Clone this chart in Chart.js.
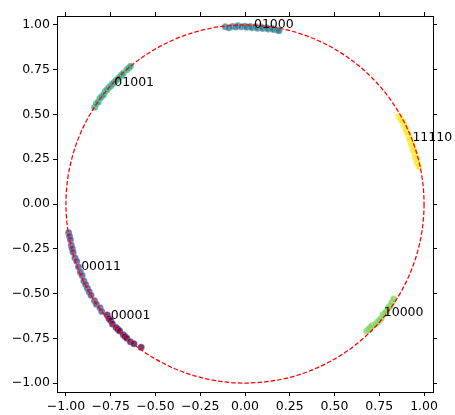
<!DOCTYPE html>
<html>
<head>
<meta charset="utf-8">
<script src="https://cdn.jsdelivr.net/npm/chart.js"></script>
<style>
  html, body { margin: 0; padding: 0; background: #fff; }
  #wrap { width: 455px; height: 415px; }
</style>
</head>
<body>
<div id="wrap"><canvas id="c" width="455" height="415"></canvas></div>
<script>
// cluster labels (codes) and colours (viridis, 6 classes)
const labels = ['00001', '00011', '01000', '01001', '10000', '11110'];
const colors = ['#440154', '#414487', '#2a788e', '#22a884', '#7ad151', '#fde725'];

// point coordinates per cluster
const x00001 = [-0.77, -0.76, -0.75, -0.74, -0.72, -0.71, -0.70, -0.68, -0.67, -0.66, -0.64, -0.62, -0.58];
const y00001 = [-0.62, -0.64, -0.65, -0.67, -0.69, -0.70, -0.71, -0.73, -0.74, -0.75, -0.77, -0.78, -0.80];

const x00011 = [-0.985, -0.98, -0.975, -0.97, -0.965, -0.96, -0.95, -0.94, -0.93, -0.92, -0.91, -0.90, -0.89, -0.88, -0.87, -0.86, -0.84, -0.83, -0.81, -0.80];
const y00011 = [-0.16, -0.18, -0.20, -0.23, -0.25, -0.27, -0.30, -0.32, -0.35, -0.38, -0.40, -0.43, -0.45, -0.47, -0.49, -0.51, -0.54, -0.56, -0.58, -0.60];

const x01000 = [-0.11, -0.09, -0.07, -0.05, -0.04, -0.02, 0.00, 0.01, 0.03, 0.04, 0.06, 0.07, 0.09, 0.10, 0.12, 0.13, 0.15, 0.16, 0.18, 0.19];
const y01000 = [0.990, 0.985, 0.992, 0.988, 0.995, 0.990, 0.993, 0.987, 0.992, 0.985, 0.990, 0.982, 0.988, 0.980, 0.985, 0.978, 0.980, 0.975, 0.972, 0.968];

const x01001 = [-0.84, -0.83, -0.82, -0.81, -0.80, -0.79, -0.78, -0.77, -0.76, -0.75, -0.74, -0.73, -0.72, -0.71, -0.70, -0.69, -0.68, -0.66, -0.65, -0.64];
const y01001 = [0.54, 0.56, 0.57, 0.59, 0.60, 0.61, 0.63, 0.64, 0.65, 0.66, 0.67, 0.68, 0.69, 0.70, 0.71, 0.72, 0.73, 0.75, 0.76, 0.77];

const x10000 = [0.68, 0.69, 0.70, 0.71, 0.73, 0.74, 0.75, 0.76, 0.77, 0.78, 0.79, 0.80, 0.81, 0.82, 0.83];
const y10000 = [-0.71, -0.70, -0.69, -0.68, -0.67, -0.66, -0.65, -0.64, -0.62, -0.61, -0.60, -0.58, -0.57, -0.55, -0.53];

const x11110 = [0.86, 0.87, 0.88, 0.89, 0.90, 0.90, 0.91, 0.92, 0.92, 0.93, 0.93, 0.94, 0.94, 0.95, 0.95, 0.96, 0.96, 0.97];
const y11110 = [0.49, 0.47, 0.46, 0.44, 0.42, 0.41, 0.39, 0.37, 0.36, 0.34, 0.33, 0.31, 0.30, 0.28, 0.26, 0.25, 0.23, 0.21];

// annotation positions (cluster centres)
const labelX = [-0.75, -0.915, 0.05, -0.73, 0.775, 0.935];
const labelY = [-0.645, -0.37, 0.985, 0.66, -0.625, 0.35];

const ticks = [-1.0, -0.75, -0.5, -0.25, 0.0, 0.25, 0.5, 0.75, 1.0];

const xs = [x00001, x00011, x01000, x01001, x10000, x11110];
const ys = [y00001, y00011, y01000, y01001, y10000, y11110];

function alpha(hex, a) {
  const n = parseInt(hex.slice(1), 16);
  return `rgba(${n >> 16}, ${(n >> 8) & 255}, ${n & 255}, ${a})`;
}

const datasets = labels.map((lab, i) => ({
  label: lab,
  data: xs[i].map((v, j) => ({ x: v, y: ys[i][j] })),
  backgroundColor: alpha(colors[i], 0.75),
  borderColor: 'rgba(255, 255, 255, 0.45)',
  borderWidth: 0.6,
  pointRadius: 3.5,
  pointHoverRadius: 3.5
}));

const circleAndText = {
  id: 'circleAndText',
  afterDatasetsDraw(chart) {
    const { ctx, scales } = chart;
    const sx = scales.x, sy = scales.y;
    const cx = sx.getPixelForValue(0), cy = sy.getPixelForValue(0);
    const rx = sx.getPixelForValue(1) - cx;
    const ry = cy - sy.getPixelForValue(1);
    ctx.save();
    ctx.strokeStyle = '#ff0000';
    ctx.lineWidth = 1.25;
    ctx.setLineDash([4.6, 2]);
    ctx.beginPath();
    ctx.ellipse(cx, cy, rx, ry, 0, 0, Math.PI * 2);
    ctx.stroke();
    ctx.setLineDash([]);
    ctx.fillStyle = '#000';
    ctx.font = '12.5px "DejaVu Sans"';
    ctx.textAlign = 'left';
    ctx.textBaseline = 'alphabetic';
    labels.forEach((lab, i) => {
      ctx.fillText(lab, sx.getPixelForValue(labelX[i]), sy.getPixelForValue(labelY[i]));
    });
    ctx.restore();
  }
};

const fmt = v => (v < 0 ? '\u2212' : '') + Math.abs(v).toFixed(2);
const font = { family: 'DejaVu Sans', size: 12.5 };

function axis(pos, labelsOn, size) {
  return {
    type: 'linear',
    position: pos,
    min: -1.05,
    max: 1.05,
    afterBuildTicks: s => { s.ticks = ticks.map(v => ({ value: v })); },
    afterFit: s => {
      if (pos === 'left' || pos === 'right') s.width = size; else s.height = size;
    },
    border: { display: true, color: '#000', width: 1 },
    grid: { drawOnChartArea: false, drawTicks: true, tickLength: 4, tickColor: '#000', tickWidth: 1 },
    ticks: {
      display: labelsOn,
      color: '#000',
      font: font,
      padding: 3,
      maxRotation: 0,
      autoSkip: false,
      callback: v => fmt(v)
    }
  };
}

Chart.defaults.font.family = 'DejaVu Sans';

new Chart(document.getElementById('c').getContext('2d'), {
  type: 'scatter',
  data: { datasets },
  options: {
    responsive: false,
    animation: false,
    layout: { padding: 0 },
    plugins: { legend: { display: false }, tooltip: { enabled: false } },
    scales: {
      x: axis('bottom', true, 23),
      y: axis('left', true, 57),
      x2: axis('top', false, 16),
      y2: axis('right', false, 22)
    }
  },
  plugins: [circleAndText]
});
</script>
</body>
</html>
